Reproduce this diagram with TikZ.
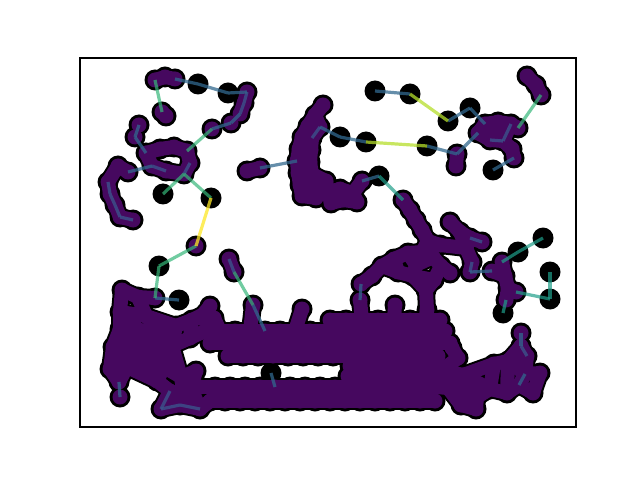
\documentclass[tikz,border=0pt]{standalone}
\usepackage{xcolor}
\usepackage{tikz}
\definecolor{Core}{HTML}{46085F}
\definecolor{Blu}{HTML}{31688E}
\definecolor{DkB}{HTML}{3B528B}
\definecolor{Tea}{HTML}{1F9E89}
\definecolor{Grn}{HTML}{35B779}
\definecolor{Lim}{HTML}{B5DE2B}
\definecolor{Yel}{HTML}{FDE725}

% vertices whose centre shows purple (dense parts)
\newcommand\bulklist{tl1/155/80, tl2/165/77, tl3/175/79, tl6/247/92, tl7/244/103, tl8/240/114,
  tl9/231/123, tl10/212/129, tl11/162/112, tl12/166/116, tl13/139/125, tl14/135/137,
  tc1/146/153, tc2/160/149, tc3/174/147, tc4/187/151, tc5/190/163, tc6/184/174, tc7/152/166, tc8/166/171,
  lb1/118/166, lb2/128/172, lb3/108/182, lb4/110/194, lb5/115/205, lb6/120/217, lb7/133/220,
  iso3/196/246, sg1/229/259, sg2/234/272, tml1/247/171, tml2/260/168,
  tm1/323/105, tm2/315/115, tm3/308/126, tm4/302/137, tm5/299/149, tm6/297/161, tm7/298/173,
  tm8/300/185, tm9/302/196, tm10/312/138, tm11/311/150, tm12/310/162, tm13/312/174, tm14/314/186,
  tm15/316/198, tm16/320/127, tm17/326/181, tm18/328/192, tm19/331/203, tm20/340/189, tm21/343/200,
  tm22/353/193, tm23/357/202, tm24/362/181,
  tr5/485/124, tr6/498/122, tr7/511/124, tr8/518/128, tr9/478/133, tr10/490/140, tr11/503/141,
  tr12/512/149, tr13/514/158, tr15/527/76, tr16/536/85, tr17/541/95, trc2/457/154, trc3/456/166,
  mr1/403/200, mr2/410/210, mr3/416/220, mr4/422/230, mr5/428/241, mr6/422/252, mr7/433/257,
  mr8/441/266, mr9/450/273, mr10/434/280, mr11/450/222, mr12/460/232, mr13/470/238, mr14/482/242,
  mr16/466/248, mr17/472/262, mr18/470/272, mr19/440/245, mr20/408/253, mr21/394/259, mr22/382/266,
  mr23/372/276, mr24/361/284, mr25/398/272, mr26/413/276, mr27/426/290, mr28/416/265,
  rm1/492/271, rm2/502/262, rm3/505/276, rm4/508/288, rm5/516/292, rm6/506/300,
  lr1/521/333, lr2/521/346, lr3/527/356, lr4/508/361, lr5/494/364, lr6/540/373, lr7/525/374,
  lr8/519/385, lr9/533/393, lr10/507/393, lr11/490/389, lr12/477/397, lr13/461/405, lr14/476/409,
  lr15/448/388, lr16/452/348, lr17/458/358, lr18/442/370, lr19/463/375,
  lf1/155/298, lf3/122/290, lf4/138/297, lf5/120/312, lf6/146/316, lf7/120/329, lf8/140/331,
  lf9/158/328, lf10/176/326, lf11/192/320, lf12/206/313, lf14/113/347, lf15/132/348, lf16/152/348,
  lf17/172/346, lf18/190/338, lf19/110/369, lf20/127/367, lf21/147/370, lf22/164/367, lf23/181/377,
  lf24/191/388, lf25/119/382, lf26/120/397, lf27/157/381, lf28/170/391, lf29/184/398, lf30/161/409,
  lf31/180/405, lf32/200/409, lf33/196/371,
  mt1/210/306, mt2/253/305, mt3/302/309, mt4/360/300, mt5/395/305, mt6/427/310, mx1/200/318, mx2/214/318}

% rows of the big lower cluster: prefix/y/{x values}
\newcommand\mainrows{mb/320/{330,346,362,378,394,410,425,440},
  mc/331/{205,220,235,250,265,280,295,310,325,340,355,370,385,400,415,430,445},
  md/343/{210,225,240,255,270,285,300,315,330,345,360,375,390,405,420,435,450},
  me/356/{228,243,258,273,288,303,318,333,348,363,378,393,408,423,438},
  mf/366/{350,365,380,395,410,425,440},
  mi/376/{348,363,378,393,408,423,438},
  mg/387/{200,215,230,245,260,275,290,305,320,335,350,365,380,395,410,423,436},
  mh/401/{210,225,240,255,270,285,300,315,330,345,360,375,390,405,420,435}}

% short links inside the dense parts
\newcommand\purlinks{tl1/tl2, tl2/tl3, tl11/tl12, tc1/tc2, tc2/tc3, tc3/tc4, tc4/tc5, tc6/tc8, tc7/tc1,
  lb1/lb2, lb1/lb3, tml1/tml2, tm1/tm2, tm2/tm3, tm3/tm4, tm4/tm5, tm5/tm6, tm6/tm7, tm7/tm8, tm8/tm9,
  tm3/tm16, tm10/tm11, tm11/tm12, tm12/tm13, tm13/tm14, tm14/tm15, tm9/tm15, tm14/tm17, tm17/tm18,
  tm18/tm19, tm18/tm20, tm20/tm21, tm20/tm22, tm22/tm23, tm22/tm24, tm4/tm10, tm6/tm12,
  tm5/tm11, tm7/tm13, tm8/tm14, tm2/tm16, tm13/tm17, tm19/tm21, tm21/tm23,
  tr5/tr6, tr6/tr7, tr7/tr8, tr5/tr9, tr9/tr10, tr11/tr12, tr12/tr13, tr15/tr16, tr16/tr17, trc2/trc3,
  tr6/tr11, tr10/tr5,
  mr1/mr2, mr2/mr3, mr3/mr4, mr4/mr5, mr5/mr19, mr5/mr6, mr6/mr7, mr7/mr8, mr8/mr9, mr8/mr10,
  mr11/mr12, mr12/mr13, mr12/mr16, mr16/mr19, mr16/mr17, mr6/mr20, mr20/mr21, mr21/mr22, mr22/mr23,
  mr23/mr24, mr21/mr25, mr25/mr26, mr26/mr28, mr28/mr7, mr26/mr27, mr10/mr27, mr20/mr28, mr22/mr25,
  mr13/mr16, mr10/mr26,
  rm1/rm3, rm2/rm3, rm3/rm4, rm4/rm5, rm4/rm6,
  lr4/lr5, lr3/lr7, lr6/lr7, lr8/lr9, lr8/lr10, lr10/lr11, lr11/lr12, lr12/lr13, lr12/lr14, lr13/lr15,
  lr15/lr18, lr18/lr19, lr19/lr5, lr16/lr17, lr17/lr18, lr2/lr4, lr4/lr7, lr11/lr19, lr13/lr14,
  lr19/lr12, lr11/lr5, lr10/lr4, lr8/lr7, lr9/lr6, lr15/lr19, lr13/lr19, lr3/lr4,
  lf3/lf4, lf4/lf1, lf3/lf5, lf5/lf6, lf5/lf7, lf7/lf8, lf8/lf9, lf9/lf10, lf10/lf11, lf11/lf12,
  lf12/mt1, lf7/lf14, lf14/lf15, lf15/lf16, lf16/lf17, lf17/lf18, lf18/lf11, lf14/lf19, lf19/lf20,
  lf20/lf21, lf21/lf22, lf22/lf23, lf23/lf24, lf19/lf25, lf21/lf27, lf27/lf28, lf28/lf29, lf29/lf24,
  lf6/lf9, lf6/lf4, lf8/lf15, lf9/lf16, lf10/lf17, lf15/lf20, lf16/lf21, lf17/lf22, lf20/lf25,
  lf7/lf15, lf8/lf16, lf9/lf17, lf14/lf20, lf15/lf21, lf16/lf22, lf17/lf23, lf5/lf8, lf20/lf27,
  lf22/lf27, lf23/lf29, lf6/lf10, lf29/lf31, lf24/lf32, lf28/lf31, lf23/lf33, lf33/lf24,
  lf18/mc1, mt1/mx1, mx1/mx2, mx2/mc2, mt2/mc4, mt3/mc7, mt4/mb3, mt5/mb5, mt6/mb7,
  lf24/mg1, lf32/mh1, mr27/mt6, lr16/md17, lr18/mi7, lr15/mg17,
  tl6/tl7, tl7/tl8, lb3/lb4, lb4/lb5, lb5/lb6, lb6/lb7, tr7/tr11, tr10/tr11,
  lr2/lr3, lf28/lf30, lf30/lf31, lf31/lf32, tc5/tc6, tc7/tc8, sg1/sg2, mr17/mr18, mr13/mr14, tm10/tm16}

\begin{document}
\begin{tikzpicture}[x=0.5pt,y=-0.5pt,
  vtx/.style={circle,fill=black,inner sep=0pt,minimum size=10.5pt},
  vcore/.style={fill=Core},
  casing/.style={line width=9pt,draw=black,line cap=round},
  tube/.style={line width=7pt,draw=Core,line cap=round},
  lnk/.style={line width=1.6pt},
  dkb/.style={lnk,draw=DkB,draw opacity=0.8},
  blu/.style={lnk,draw=Blu,draw opacity=0.75},
  tea/.style={lnk,draw=Tea,draw opacity=0.7},
  grn/.style={lnk,draw=Grn,draw opacity=0.7},
  lim/.style={lnk,draw=Lim,draw opacity=0.75},
  yel/.style={lnk,draw=Yel,draw opacity=0.75}
]
\useasboundingbox (0,0) rectangle (640,480);

% black discs
\foreach \n/\x/\y in \bulklist \node[vtx] (\n) at (\x,\y) {};
\foreach \n/\x/\y in {tl4/198/84, tl5/228/93, iso1/163/194, iso2/211/198, iso4/159/266, lf2/179/300,
  tmc1/340/137, tmc2/366/142, iso5/379/176, tr1/375/91, tr2/410/94, tr3/448/121, tr4/470/108,
  tr14/493/170, trc1/427/146, rm7/518/252, rm8/543/238, rm9/503/313, rm10/550/272, rm11/550/299,
  gp1/271/373}
  \node[vtx] (\n) at (\x,\y) {};
\foreach \rw/\yy/\xs in \mainrows {\foreach \x [count=\i] in \xs \node[vtx] (\rw\i) at (\x,\yy) {};}

% short links: black casing first, purple inside after
\foreach \a/\b in \purlinks \draw[casing] (\a.center) -- (\b.center);
\foreach \rw/\yy/\xs in \mainrows {\foreach \x [count=\i, remember=\i as \j (initially 0)] in \xs
  {\ifnum\i>1 \draw[casing] (\rw\j.center) -- (\rw\i.center);\fi}}
\foreach \n/\x/\y in \bulklist \fill[vcore] (\n.center) circle[radius=3.75pt];
\foreach \rw/\yy/\xs in \mainrows {\foreach \x [count=\i] in \xs \fill[vcore] (\rw\i.center) circle[radius=3.75pt];}
\foreach \a/\b in \purlinks \draw[tube] (\a.center) -- (\b.center);
\foreach \rw/\yy/\xs in \mainrows {\foreach \x [count=\i, remember=\i as \j (initially 0)] in \xs
  {\ifnum\i>1 \draw[tube] (\rw\j.center) -- (\rw\i.center);\fi}}

\foreach \a/\b in {tl6/tl7, tl7/tl8, lb3/lb4, lb4/lb5, lb5/lb6, lb6/lb7, tr7/tr11, tr10/tr11,
  lr2/lr3, lf28/lf30, lf30/lf31, lf31/lf32, tc5/tc6, tc7/tc8, sg1/sg2, mr17/mr18, mr13/mr14, tm10/tm16}
  \draw[dkb] (\a.center) -- (\b.center);

% longer links
\foreach \a/\b in {tl3/tl4, tl4/tl5, tl5/tl6, tl8/tl9, tl9/tl10, tl13/tl14, tl14/tc1, lb2/tc7,
  tml2/tm6, tm16/tmc1, tmc1/tmc2, tm24/iso5, tr1/tr2, tr3/tr4, tr4/tr5, tr13/tr14, trc1/trc2,
  trc2/tr9, lf1/lf2, mr24/mt4, mr18/rm1, gp1/mg6, lr1/lr2, lr7/lr8, lf25/lf26, mt2/mc5}
  \draw[blu] (\a.center) -- (\b.center);
\foreach \a/\b in {iso5/mr1, rm7/rm8, rm2/rm7, rm5/rm11, rm10/rm11, rm6/rm9}
  \draw[tea] (\a.center) -- (\b.center);
\foreach \a/\b in {tl1/tl11, tc4/tl10, tc6/iso1, tc6/iso2, iso3/iso4, iso4/lf1, sg2/mt2, tr17/tr8}
  \draw[grn] (\a.center) -- (\b.center);
\foreach \a/\b in {tr2/tr3, tmc2/trc1}
  \draw[lim] (\a.center) -- (\b.center);
\draw[yel] (iso2.center) -- (iso3.center);

% axes frame
\draw[line width=0.55pt] (80,58) rectangle (576,427);
\end{tikzpicture}
\end{document}
